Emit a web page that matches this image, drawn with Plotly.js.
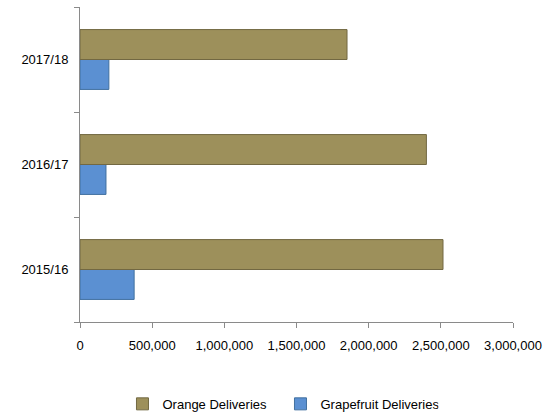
<!DOCTYPE html>
<html>
<head>
<meta charset="utf-8">
<script src="https://cdn.plot.ly/plotly-3.0.1.min.js"></script>
<style>html,body{margin:0;padding:0;background:#fff;}#chart{width:554px;height:414px;}</style>
</head>
<body>
<div id="chart"></div>
<script>
const seasons = ["2015/16", "2016/17", "2017/18"];
const orangeDeliveries = [2515000, 2400000, 1850000];
const grapefruitDeliveries = [375000, 180000, 200000];
const xTickValues = [0, 500000, 1000000, 1500000, 2000000, 2500000, 3000000];
const xTickLabels = ["0", "500,000", "1,000,000", "1,500,000", "2,000,000", "2,500,000", "3,000,000"];

const font = {family: "Liberation Sans, Arial, sans-serif", size: 13, color: "#000"};

const traces = [
  {
    type: "bar", orientation: "h", name: "Grapefruit Deliveries",
    y: seasons, x: grapefruitDeliveries,
    marker: {color: "#5B90D2", line: {color: "#41709f", width: 1}},
    legendrank: 2, hoverinfo: "x+name"
  },
  {
    type: "bar", orientation: "h", name: "Orange Deliveries",
    y: seasons, x: orangeDeliveries,
    marker: {color: "#9D905B", line: {color: "#726842", width: 1}},
    legendrank: 1, hoverinfo: "x+name"
  }
];

const layout = {
  width: 554, height: 414,
  margin: {l: 80, r: 41, t: 7, b: 92, pad: 0, autoexpand: false},
  paper_bgcolor: "#fff", plot_bgcolor: "#fff",
  font: font,
  barmode: "group", bargap: 0.43, bargroupgap: 0,
  xaxis: {
    range: [0, 3000000], tickvals: xTickValues, ticktext: xTickLabels,
    showgrid: false, zeroline: false, showline: true, linecolor: "#8a8a8a", linewidth: 1,
    ticks: "outside", ticklen: 5, tickcolor: "#8a8a8a", tickfont: font,
    ticklabelstandoff: 6, fixedrange: true, automargin: false
  },
  yaxis: {
    type: "category", categoryorder: "array", categoryarray: seasons,
    showgrid: false, zeroline: false, showline: true, linecolor: "#8a8a8a", linewidth: 1,
    ticks: "outside", tickson: "boundaries", ticklen: 5, tickcolor: "#8a8a8a",
    tickfont: font, ticklabelstandoff: 8, fixedrange: true, automargin: false
  },
  showlegend: true,
  legend: {
    orientation: "h", x: 0.463, xanchor: "center", y: -0.26, yanchor: "middle",
    font: font, itemwidth: 30, traceorder: "normal",
    entrywidth: 113, entrywidthmode: "pixels"
  }
};

Plotly.newPlot("chart", traces, layout, {displayModeBar: false, staticPlot: true});
</script>
</body>
</html>
